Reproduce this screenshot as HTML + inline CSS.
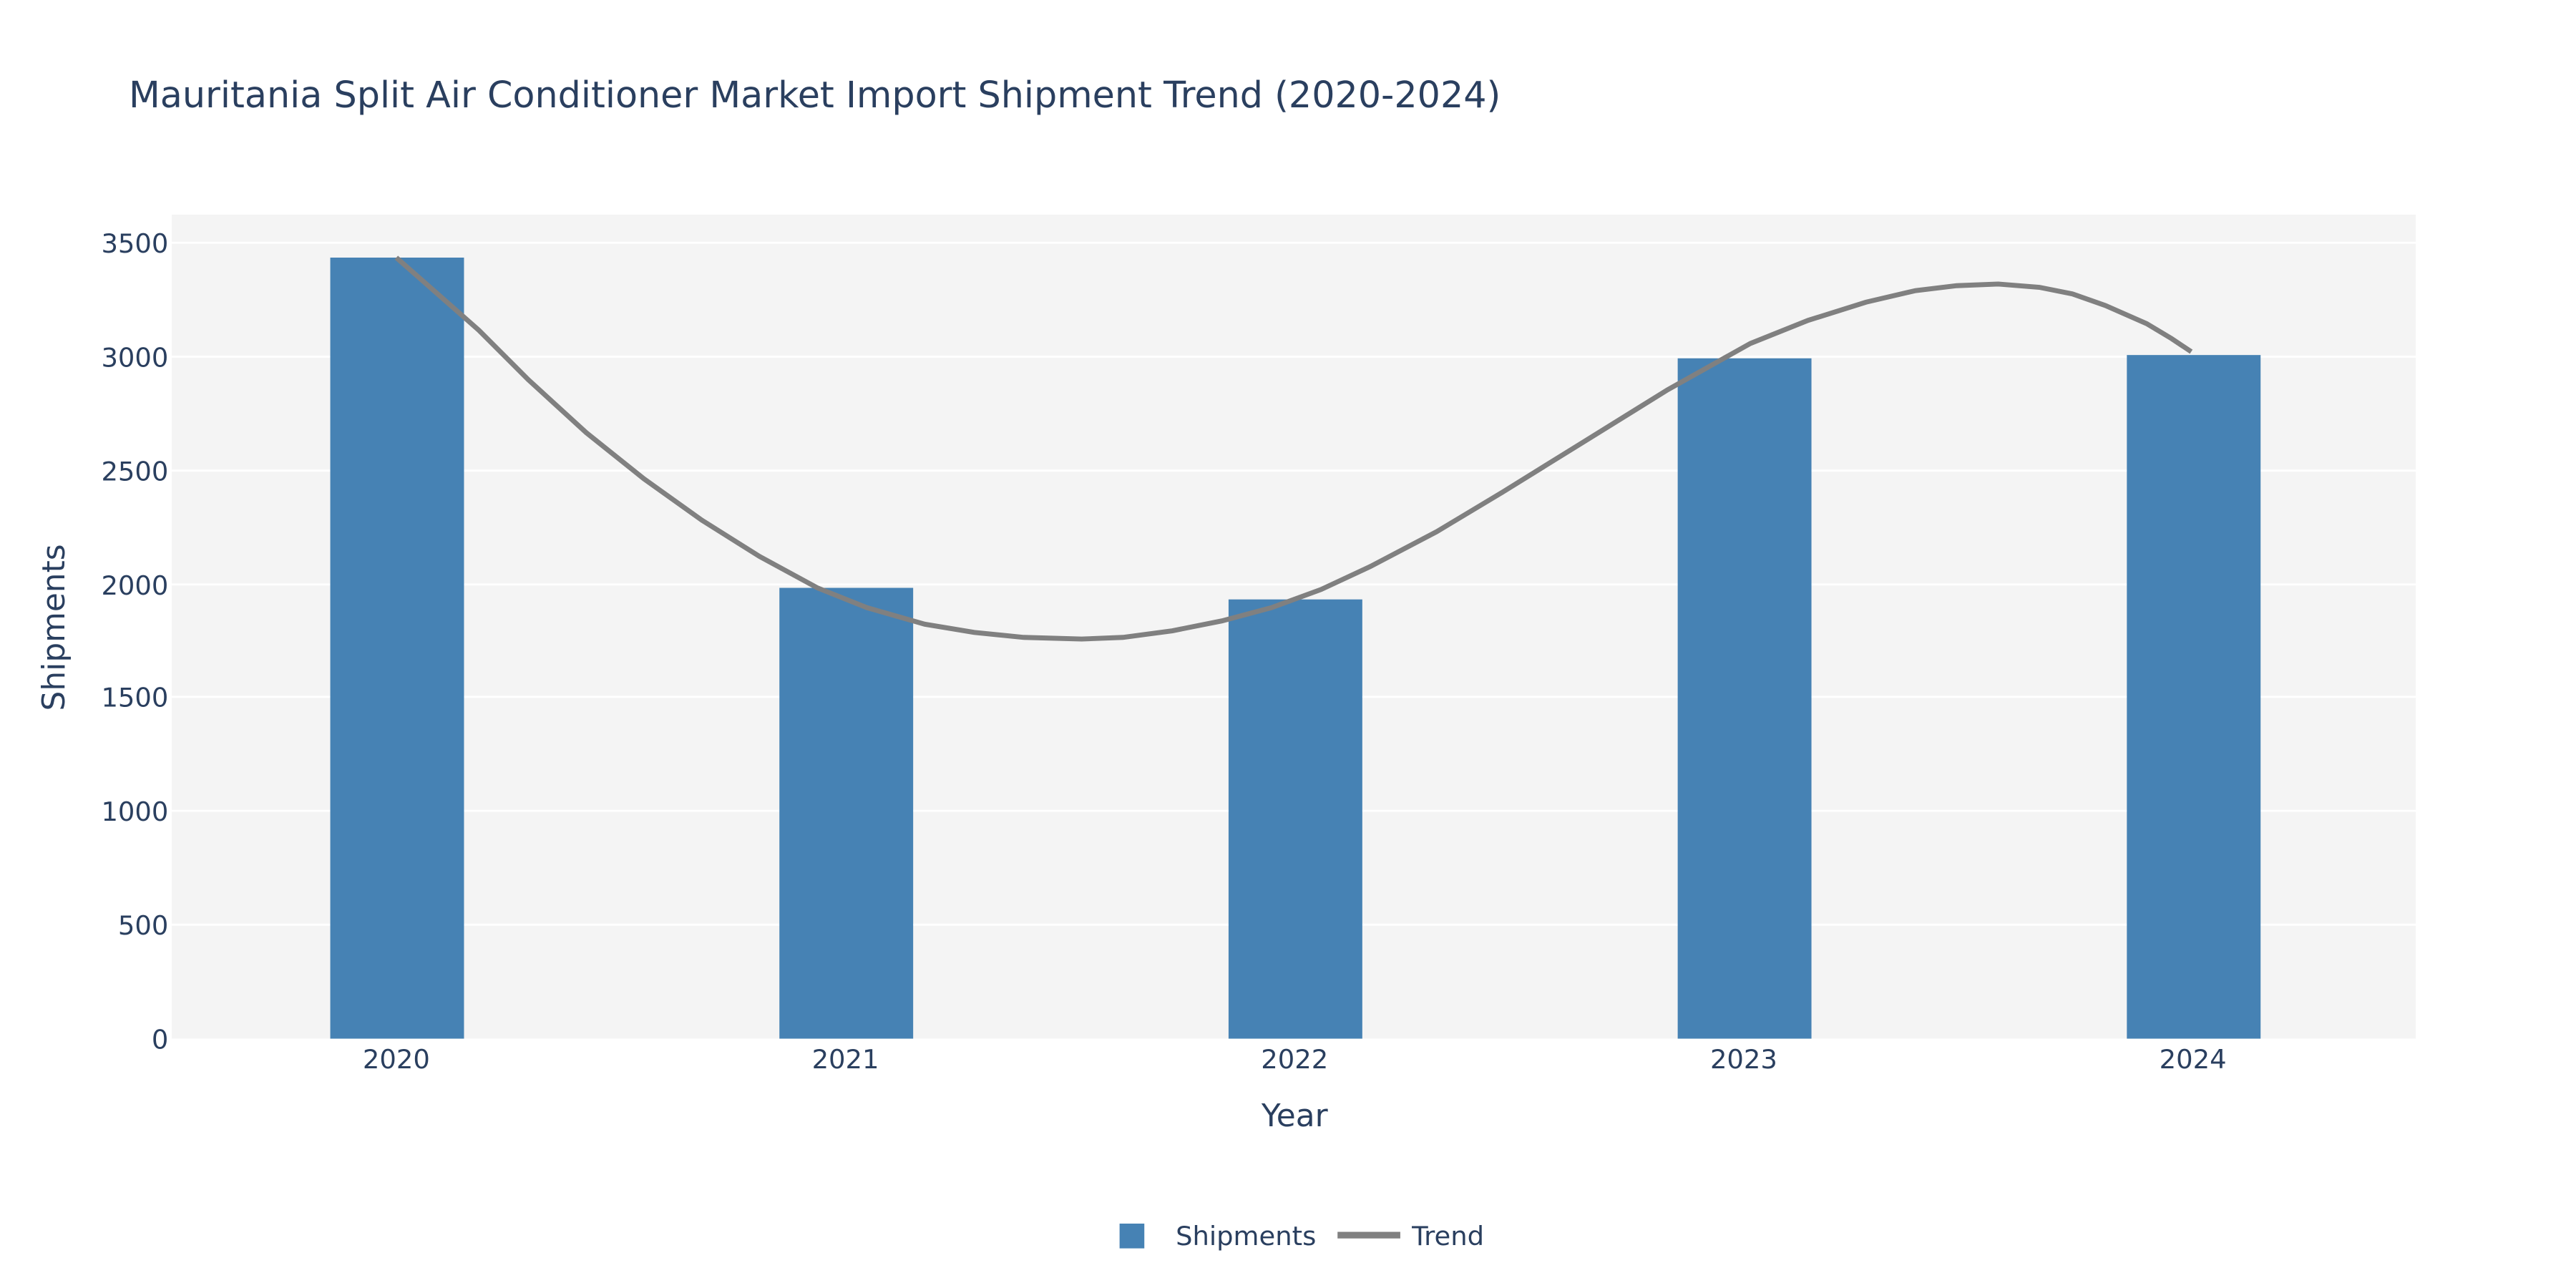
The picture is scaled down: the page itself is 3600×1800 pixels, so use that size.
<!DOCTYPE html>
<html><head><style>html,body{margin:0;padding:0;background:#fff}svg{display:block}</style></head>
<body>
<svg width="3600" height="1800" viewBox="0 0 1560 780" xmlns="http://www.w3.org/2000/svg" font-family="'DejaVu Sans','Liberation Sans',sans-serif" fill="#2a3f5f">
<rect width="1560" height="780" fill="#fff"/>
<text x="78" y="65" font-size="22">Mauritania Split Air Conditioner Market Import Shipment Trend (2020-2024)</text>
<rect x="104" y="130" width="1359" height="499" fill="#f4f4f4"/>
<g stroke="#fff" stroke-width="1.2">
<line x1="104" x2="1463" y1="560" y2="560"/>
<line x1="104" x2="1463" y1="491" y2="491"/>
<line x1="104" x2="1463" y1="422" y2="422"/>
<line x1="104" x2="1463" y1="354" y2="354"/>
<line x1="104" x2="1463" y1="285" y2="285"/>
<line x1="104" x2="1463" y1="216" y2="216"/>
<line x1="104" x2="1463" y1="147" y2="147"/>
</g>
<g font-size="16" text-anchor="end">
<text x="102" y="635">0</text><text x="102" y="566">500</text><text x="102" y="497">1000</text><text x="102" y="428">1500</text><text x="102" y="360">2000</text><text x="102" y="291">2500</text><text x="102" y="222">3000</text><text x="102" y="153">3500</text>
</g>
<g fill="#4682b4">
<rect x="200" y="156" width="81" height="473"/>
<rect x="472" y="356" width="81" height="273"/>
<rect x="744" y="363" width="81" height="266"/>
<rect x="1016" y="217" width="81" height="412"/>
<rect x="1288" y="215" width="81" height="414"/>
</g>
<polyline fill="none" stroke="#808080" stroke-width="3" points="240,156 290,200 320,230 355,262 390,290 425,315 460,337 495,356 525,368 560,378 590,383 620,386 655,387 680,386 710,382 740,376 770,368 800,357 830,343 870,322 910,298 960,267 1010,236 1060,208 1095,194 1130,183 1160,176 1185,173 1210,172 1235,174 1255,178 1275,185 1300,196 1315,205 1327,213"/>
<g font-size="16" text-anchor="middle">
<text x="240" y="647">2020</text><text x="512" y="647">2021</text><text x="784" y="647">2022</text><text x="1056" y="647">2023</text><text x="1328" y="647">2024</text>
</g>
<text x="784" y="682" font-size="19" text-anchor="middle">Year</text>
<text transform="translate(39,380) rotate(-90)" font-size="19" text-anchor="middle">Shipments</text>
<rect x="678" y="741" width="15" height="15" fill="#4682b4"/>
<text x="712" y="754" font-size="16">Shipments</text>
<line x1="810" x2="848" y1="748" y2="748" stroke="#808080" stroke-width="4"/>
<text x="855" y="754" font-size="16">Trend</text>
</svg>
</body></html>
